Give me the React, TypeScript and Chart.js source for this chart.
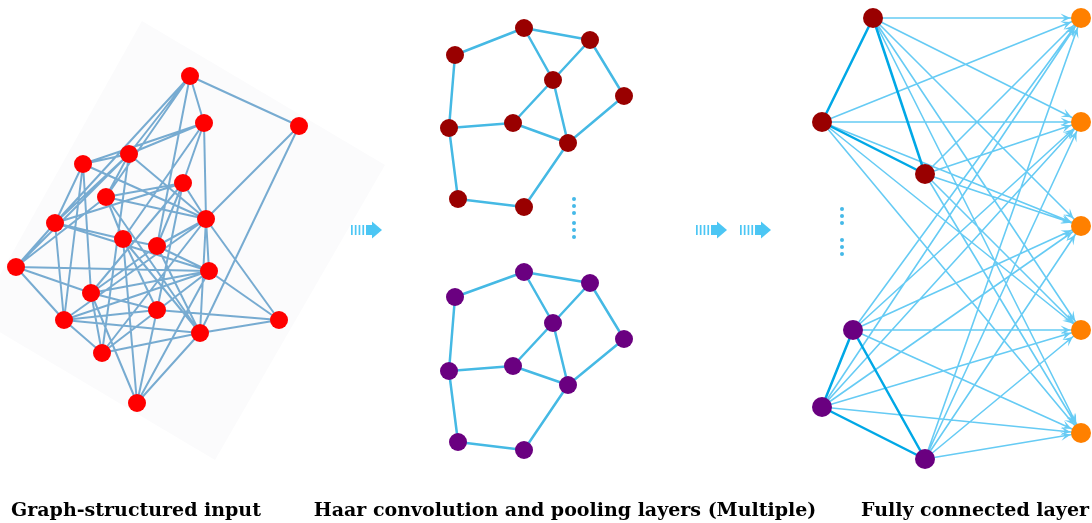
import React, { useEffect, useRef } from "react";
import { Chart, registerables } from "chart.js";

Chart.register(...registerables);

const CANVAS_W = 1092;
const CANVAS_H = 523;
const AXIS_H = 53;

// ---------- Graph-structured input ----------
const inputNodesX = [190, 204, 299, 83, 129, 183, 106, 55, 206, 123, 157, 16, 209, 91, 157, 64, 279, 200, 102, 137];
const inputNodesY = [76, 123, 126, 164, 154, 183, 197, 223, 219, 239, 246, 267, 271, 293, 310, 320, 320, 333, 353, 403];
const inputEdges: [number, number][] = [
  [1, 2], [1, 3], [1, 5], [1, 8], [1, 7], [1, 11],
  [2, 4], [2, 5], [2, 6], [2, 9], [2, 10],
  [3, 9], [3, 18],
  [4, 5], [4, 8], [4, 14], [4, 9], [4, 16],
  [5, 7], [5, 8], [5, 9], [5, 12], [5, 19],
  [6, 7], [6, 8], [6, 9], [6, 11], [6, 14], [6, 15],
  [7, 9], [7, 10], [7, 12], [7, 18],
  [8, 10], [8, 12], [8, 16], [8, 13],
  [9, 11], [9, 13], [9, 16], [9, 17], [9, 18], [9, 19],
  [10, 11], [10, 15], [10, 18], [10, 20],
  [11, 13], [11, 14], [11, 18],
  [12, 14], [12, 16], [12, 13],
  [13, 14], [13, 16], [13, 17], [13, 19], [13, 20],
  [14, 15], [14, 19], [14, 20],
  [15, 16], [15, 17], [15, 20],
  [16, 19], [16, 18],
  [17, 18],
  [18, 19], [18, 20],
];
// faint rotated backdrop behind the input graph
const backdropX = [142, 385, 215, -24];
const backdropY = [21, 165, 460, 318];

// ---------- Haar convolution & pooling ----------
const poolTopX = [455, 524, 590, 553, 624, 449, 513, 568, 458, 524];
const poolTopY = [55, 28, 40, 80, 96, 128, 123, 143, 199, 207];
const poolBotX = [455, 524, 590, 553, 624, 449, 513, 568, 458, 524];
const poolBotY = [297, 272, 283, 323, 339, 371, 366, 385, 442, 450];
const poolEdges: [number, number][] = [
  [1, 2], [2, 3], [2, 4], [3, 4], [3, 5], [4, 7], [4, 8], [5, 8],
  [1, 6], [6, 7], [7, 8], [6, 9], [9, 10], [10, 8],
];
const poolDotsX = [574, 574, 574, 574, 574, 574];
const poolDotsY = [199, 206, 213, 223, 230, 237];

// ---------- Fully connected layer ----------
const fcTopX = [873, 822, 925];
const fcTopY = [18, 122, 174];
const fcBotX = [853, 822, 925];
const fcBotY = [330, 407, 459];
const fcLocalEdges: [number, number][] = [[1, 2], [1, 3], [2, 3]];
const outX = [1081, 1081, 1081, 1081, 1081];
const outY = [18, 122, 226, 330, 433];
const fcDotsX = [842, 842, 842, 842, 842, 842];
const fcDotsY = [209, 216, 223, 240, 247, 254];

// ---------- block arrows ----------
const blockArrowX = [351, 696, 740];
const blockArrowY = [230, 230, 230];

// ---------- captions ----------
const captionX = [136, 565, 975];
const captionText = [
  "Graph-structured input",
  "Haar convolution and pooling layers (Multiple)",
  "Fully connected layer",
];

type P = { x: number; y: number | null };

function pts(xs: number[], ys: number[]): P[] {
  return xs.map((x, i) => ({ x, y: ys[i] }));
}

function segs(xs: number[], ys: number[], edges: [number, number][]): P[] {
  const out: P[] = [];
  edges.forEach(([a, b]) => {
    out.push({ x: xs[a - 1], y: ys[a - 1] });
    out.push({ x: xs[b - 1], y: ys[b - 1] });
    out.push({ x: xs[b - 1], y: null });
  });
  return out;
}

function fullSegs(srcX: number[], srcY: number[], dstX: number[], dstY: number[]): P[] {
  const out: P[] = [];
  srcX.forEach((sx, i) => {
    dstX.forEach((dx, j) => {
      out.push({ x: sx, y: srcY[i] });
      out.push({ x: dx, y: dstY[j] });
      out.push({ x: dx, y: null });
    });
  });
  return out;
}

const lineDs = (data: P[], color: string, width: number, order: number) => ({
  type: "line" as const,
  data,
  borderColor: color,
  borderWidth: width,
  pointRadius: 0,
  spanGaps: false,
  tension: 0,
  fill: false,
  clip: false as const,
  order,
});

const nodeDs = (data: P[], color: string, radius: number) => ({
  type: "scatter" as const,
  data,
  backgroundColor: color,
  borderColor: color,
  borderWidth: 0,
  pointRadius: radius,
  clip: false as const,
  order: 0,
});

const decorPlugin = {
  id: "decor",
  beforeDatasetsDraw(chart: any) {
    const { ctx, scales } = chart;
    const sx = scales.x;
    const sy = scales.y;
    ctx.save();
    ctx.beginPath();
    backdropX.forEach((vx, i) => {
      const px = sx.getPixelForValue(vx);
      const py = sy.getPixelForValue(backdropY[i]);
      if (i === 0) ctx.moveTo(px, py);
      else ctx.lineTo(px, py);
    });
    ctx.closePath();
    ctx.fillStyle = "#fbfbfc";
    ctx.fill();
    ctx.restore();
  },
  afterDatasetsDraw(chart: any) {
    const { ctx, scales } = chart;
    const sx = scales.x;
    const sy = scales.y;
    ctx.save();
    // block arrows with striped tails
    ctx.fillStyle = "#4cc6f4";
    blockArrowX.forEach((vx, i) => {
      const x0 = sx.getPixelForValue(vx);
      const yc = sy.getPixelForValue(blockArrowY[i]);
      for (let k = 0; k < 4; k++) {
        ctx.fillRect(x0 + k * 3.8, yc - 5, 1.7, 10);
      }
      ctx.fillRect(x0 + 15, yc - 5, 7, 10);
      ctx.beginPath();
      ctx.moveTo(x0 + 21, yc - 8.5);
      ctx.lineTo(x0 + 31, yc);
      ctx.lineTo(x0 + 21, yc + 8.5);
      ctx.closePath();
      ctx.fill();
    });
    // arrow heads of the fully connected layer
    ctx.fillStyle = "#66cbf4";
    const srcX = fcTopX.concat(fcBotX);
    const srcY = fcTopY.concat(fcBotY);
    srcX.forEach((vx, i) => {
      const ax = sx.getPixelForValue(vx);
      const ay = sy.getPixelForValue(srcY[i]);
      outX.forEach((ox, j) => {
        const bx = sx.getPixelForValue(ox);
        const by = sy.getPixelForValue(outY[j]);
        const dx = bx - ax;
        const dy = by - ay;
        const len = Math.hypot(dx, dy);
        const ux = dx / len;
        const uy = dy / len;
        const nx = -uy;
        const ny = ux;
        const tx = bx - ux * 10.5;
        const ty = by - uy * 10.5;
        const L = 10;
        const w = 4.5;
        ctx.beginPath();
        ctx.moveTo(tx, ty);
        ctx.lineTo(tx - ux * L + nx * w, ty - uy * L + ny * w);
        ctx.lineTo(tx - ux * L * 0.55, ty - uy * L * 0.55);
        ctx.lineTo(tx - ux * L - nx * w, ty - uy * L - ny * w);
        ctx.closePath();
        ctx.fill();
      });
    });
    ctx.restore();
  },
};

export default function App() {
  const canvasRef = useRef<HTMLCanvasElement | null>(null);

  useEffect(() => {
    document.body.style.margin = "0";
    const canvas = canvasRef.current;
    if (!canvas) return;

    const datasets: any[] = [
      lineDs(segs(inputNodesX, inputNodesY, inputEdges), "rgba(31,119,180,0.6)", 2, 10),
      lineDs(segs(poolTopX, poolTopY, poolEdges), "#45b9e4", 2.5, 10),
      lineDs(segs(poolBotX, poolBotY, poolEdges), "#45b9e4", 2.5, 10),
      lineDs(fullSegs(fcTopX.concat(fcBotX), fcTopY.concat(fcBotY), outX, outY), "#66cbf4", 1.6, 10),
      lineDs(segs(fcTopX, fcTopY, fcLocalEdges), "#00a8e6", 2.5, 5),
      lineDs(segs(fcBotX, fcBotY, fcLocalEdges), "#00a8e6", 2.5, 5),
      nodeDs(pts(inputNodesX, inputNodesY), "#ff0000", 9),
      nodeDs(pts(poolTopX, poolTopY), "#990000", 9),
      nodeDs(pts(poolBotX, poolBotY), "#6a0080", 9),
      nodeDs(pts(poolDotsX, poolDotsY), "#45b9e8", 2),
      nodeDs(pts(fcDotsX, fcDotsY), "#45b9e8", 2),
      nodeDs(pts(fcTopX, fcTopY), "#990000", 10),
      nodeDs(pts(fcBotX, fcBotY), "#6a0080", 10),
      nodeDs(pts(outX, outY), "#ff8000", 10),
    ];

    const chart = new Chart(canvas, {
      type: "scatter",
      data: { datasets },
      options: {
        responsive: false,
        animation: false,
        events: [],
        layout: { padding: 0, autoPadding: false },
        plugins: {
          legend: { display: false },
          tooltip: { enabled: false },
        },
        scales: {
          x: {
            type: "linear",
            min: 0,
            max: CANVAS_W,
            offset: false,
            grid: { display: false, drawTicks: false },
            border: { display: false },
            afterBuildTicks: (scale: any) => {
              scale.ticks = captionX.map((v) => ({ value: v }));
            },
            afterFit: (scale: any) => {
              scale.height = AXIS_H;
              scale.paddingLeft = 0;
              scale.paddingRight = 0;
            },
            ticks: {
              autoSkip: false,
              maxRotation: 0,
              minRotation: 0,
              padding: 30,
              color: "#000",
              font: { family: "DejaVu Serif", weight: "bold", size: 19 },
              callback: (_v: any, i: number) => captionText[i],
            },
          },
          y: {
            type: "linear",
            display: false,
            min: 0,
            max: CANVAS_H - AXIS_H,
            reverse: true,
          },
        },
      } as any,
      plugins: [decorPlugin],
    });

    return () => chart.destroy();
  }, []);

  return (
    <div style={{ position: "absolute", left: 0, top: 0, width: CANVAS_W, height: CANVAS_H, background: "#fff" }}>
      <canvas ref={canvasRef} width={CANVAS_W} height={CANVAS_H} style={{ display: "block" }} />
    </div>
  );
}
